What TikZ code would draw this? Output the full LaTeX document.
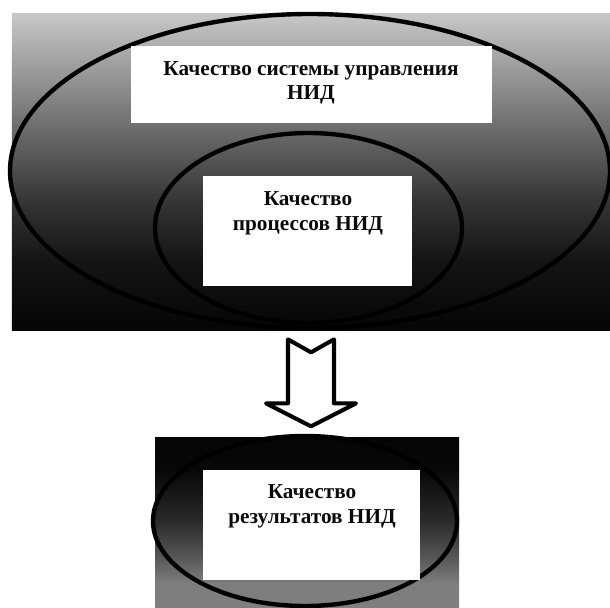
\documentclass[tikz,border=0pt]{standalone}
\usepackage{fontspec}
\setmainfont{Liberation Serif}
\usetikzlibrary{shapes.geometric, calc}

% the two backgrounds: light grey into black above, black into grey below
\pgfdeclareverticalshading{upperfade}{100bp}{%
    color(0bp)=(black!98); color(25bp)=(black!98); color(36bp)=(black!92);
    color(45.6bp)=(black!79); color(56.6bp)=(black!58); color(75bp)=(black!22);
    color(100bp)=(black!22)}
\pgfdeclareverticalshading{lowerfade}{100bp}{%
    color(0bp)=(black!50); color(25bp)=(black!50); color(32bp)=(black!51);
    color(40.3bp)=(black!67); color(50.6bp)=(black!84); color(65.3bp)=(black!97);
    color(75bp)=(black!98); color(100bp)=(black!98)}

\begin{document}
\begin{tikzpicture}[
    every node/.style={font=\bfseries},
]
\useasboundingbox (0,0) rectangle (12.2,12.14);

% ---------------------------------------------------------------- colours
\definecolor{ringline}{HTML}{000000}   % the three ellipses
\definecolor{cardfill}{HTML}{FFFFFF}   % the label cards and the arrow
\definecolor{textcolor}{HTML}{0A0A0A}

% ---------------------------------------------------------------- styles
\tikzset{
    panel/.style={
        rectangle, inner sep=0pt, shade,
    },
    ring/.style={
        ellipse, inner sep=0pt, draw=ringline, line width=2.5pt,
    },
    card/.style={
        rectangle, inner sep=0pt, fill=cardfill,
    },
    % anchor=base sits on the LAST line of a two-line label
    cardtext/.style={
        align=center, inner sep=0pt, anchor=base, text=textcolor,
        font=\bfseries\fontsize{12.1}{14.2}\selectfont,
    },
    hollowarrow/.style={
        draw=black, line width=2.3pt, line join=round, fill=cardfill,
    },
}

% ================================================================
% GEOMETRY
%   upper panel   x = 0.24 .. 12.2,  y = 5.54 .. 11.86
%   lower panel   x = 3.10 .. 9.18,  y = 0 .. 3.40
%   arrow         x = 5.32 .. 7.12,  y = 3.62 .. 5.36
% ================================================================

% ---------------------------------------------------------------- the system
\node[panel, shading=upperfade, minimum width=11.96cm, minimum height=6.32cm]
    (upper) at (6.22, 8.70) {};
\node[ring, minimum width=12.0cm, minimum height=6.28cm]
    (sysring) at (6.20, 8.72) {};
\node[ring, minimum width=6.14cm, minimum height=3.80cm]
    (procring) at (6.17, 7.58) {};

\node[card, minimum width=7.22cm, minimum height=1.54cm]
    (syscard) at (6.23, 10.45) {};
\node[cardtext] (systext) at (6.22, 10.14)
    {Качество системы управления\\НИД};

\node[card, minimum width=4.18cm, minimum height=2.20cm]
    (proccard) at (6.15, 7.52) {};
\node[cardtext] (proctext) at (6.16, 7.54)
    {Качество\\процессов НИД};

% ---------------------------------------------------------------- the arrow
\coordinate (tail) at ($(upper.south)+(0,-0.18)$);
\draw[hollowarrow] ($(tail)+(-0.46,0)$) -- ++(0.46,-0.26) -- ++(0.46,0.26)
    -- ++(0,-1.28) -- ++(0.44,0) -- ++(-0.90,-0.46) -- ++(-0.90,0.46)
    -- ++(0.44,0) -- cycle;

% ---------------------------------------------------------------- the results
\node[panel, shading=lowerfade, minimum width=6.08cm, minimum height=3.40cm]
    (lower) at (6.14, 1.70) {};
\node[ring, minimum width=6.08cm, minimum height=3.40cm]
    (resring) at (6.10, 1.72) {};

\node[card, minimum width=4.34cm, minimum height=2.20cm]
    (rescard) at (6.23, 1.64) {};
\node[cardtext] (restext) at (6.24, 1.68)
    {Качество\\результатов НИД};

\end{tikzpicture}
\end{document}
